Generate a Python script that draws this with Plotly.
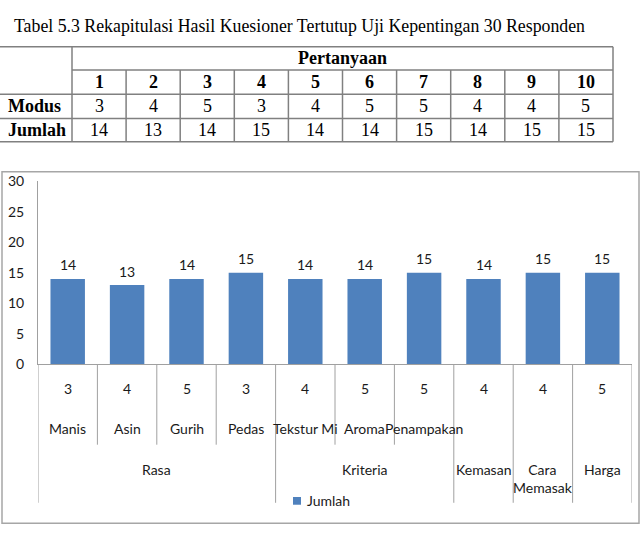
import plotly.graph_objects as go

# ---------------- data ----------------
judul_tabel = "Tabel 5.3 Rekapitulasi Hasil Kuesioner Tertutup Uji Kepentingan 30 Responden"
judul_kolom = "Pertanyaan"
pertanyaan = [1, 2, 3, 4, 5, 6, 7, 8, 9, 10]
modus = [3, 4, 5, 3, 4, 5, 5, 4, 4, 5]
jumlah = [14, 13, 14, 15, 14, 14, 15, 14, 15, 15]
aspek = ["Manis", "Asin", "Gurih", "Pedas", "Tekstur Mi", "Aroma", "Penampakan", "", "", ""]
kelompok = ["Rasa", "Rasa", "Rasa", "Rasa", "Kriteria", "Kriteria", "Kriteria",
            "Kemasan", "Cara Memasak", "Harga"]
nama_seri = "Jumlah"
y_ticks = [0, 5, 10, 15, 20, 25, 30]

# ---------------- layout helpers (pixel -> paper) ----------------
W, H = 644, 535
def X(p):
    return p / W
def Y(p):
    return 1 - p / H

SANS = "Lato"
SERIF = "Liberation Serif"
TXT = "#1a1a1a"
GRID = "#a0a0a0"

n = len(jumlah)
xs = list(range(n))

fig = go.Figure()
fig.add_trace(go.Bar(
    x=xs, y=jumlah, name=nama_seri, width=0.58,
    marker=dict(color="#4f81bd", line=dict(width=0)),
    showlegend=False, hoverinfo="x+y",
))

shapes = []
ann = []

# data labels
for i, v in zip(xs, jumlah):
    ann.append(dict(x=i, y=v, xref="x", yref="y", text=str(v), showarrow=False,
                    yanchor="middle", yshift=14, font=dict(family=SANS, size=14, color=TXT)))

# category axis: level 1 (modus), level 2 (aspek), level 3 (kelompok)
for i in xs:
    ann.append(dict(x=i, y=Y(392), xref="x", yref="paper", text=str(modus[i]), showarrow=False,
                    yanchor="middle", font=dict(family=SANS, size=14, color=TXT)))
    if aspek[i]:
        ann.append(dict(x=i, y=Y(433), xref="x", yref="paper", text=aspek[i], showarrow=False,
                        yanchor="middle", font=dict(family=SANS, size=14, color=TXT)))

# groups
groups = []
start = 0
for i in range(1, n + 1):
    if i == n or kelompok[i] != kelompok[start]:
        groups.append((kelompok[start], start, i - 1))
        start = i
for name, a, b in groups:
    label = name.replace(" ", "<br>") if a == b and " " in name else name
    ann.append(dict(x=(a + b) / 2, y=Y(465), xref="x", yref="paper", text=label, showarrow=False,
                    yanchor="top", font=dict(family=SANS, size=14, color=TXT)))

# dividers
for i in range(n + 1):
    long = i == 0 or i == n or kelompok[i] != kelompok[i - 1]
    shapes.append(dict(type="line", xref="x", yref="paper", x0=i - 0.5, x1=i - 0.5,
                       y0=Y(367), y1=Y(510 if long else 450),
                       line=dict(color=GRID, width=1)))

# legend (manual)
shapes.append(dict(type="rect", xref="paper", yref="paper", x0=X(293), x1=X(301),
                   y0=Y(512), y1=Y(504), fillcolor="#4f81bd", line=dict(width=0)))
ann.append(dict(x=X(305), y=Y(508), xref="paper", yref="paper", text=nama_seri, showarrow=False,
                xanchor="left", yanchor="middle", font=dict(family=SANS, size=14, color=TXT)))

# chart border
shapes.append(dict(type="rect", xref="paper", yref="paper", x0=X(2), x1=X(639),
                   y0=Y(531), y1=Y(168), line=dict(color="#a6a6a6", width=1.5)))

# ---------------- table ----------------
t_left, t_c1, t_right = 0, 72, 613
rows = [39, 63, 88, 113, 137]
cw = (t_right - t_c1) / len(pertanyaan)
TL = dict(color="#808080", width=1.5)
def hline(y, x0, x1):
    shapes.append(dict(type="line", xref="paper", yref="paper", x0=X(x0), x1=X(x1),
                       y0=Y(y), y1=Y(y), line=TL))
def vline(x, y0, y1):
    shapes.append(dict(type="line", xref="paper", yref="paper", x0=X(x), x1=X(x),
                       y0=Y(y0), y1=Y(y1), line=TL))
hline(rows[0], t_left, t_right)
hline(rows[1], t_c1, t_right)
for r in rows[2:]:
    hline(r, t_left, t_right)
vline(t_c1, rows[0], rows[-1])
vline(t_right, rows[0], rows[-1])
for k in range(1, len(pertanyaan)):
    vline(t_c1 + k * cw, rows[1], rows[-1])

def ttext(x, y, s, anchor="center", bold=False):
    ann.append(dict(x=X(x), y=Y(y), xref="paper", yref="paper",
                    text=f"<b>{s}</b>" if bold else s, showarrow=False,
                    xanchor=anchor, yanchor="middle",
                    font=dict(family=SERIF, size=18, color="#000000")))

ann.append(dict(x=X(12), y=Y(18), xref="paper", yref="paper", text=judul_tabel, showarrow=False,
                xanchor="left", yanchor="middle", font=dict(family=SERIF, size=17.8, color="#000000")))
ttext((t_c1 + t_right) / 2, (rows[0] + rows[1]) / 2, judul_kolom, bold=True)
for k, q in enumerate(pertanyaan):
    cx = t_c1 + (k + 0.5) * cw
    ttext(cx, (rows[1] + rows[2]) / 2, str(q), bold=True)
    ttext(cx, (rows[2] + rows[3]) / 2, str(modus[k]))
    ttext(cx, (rows[3] + rows[4]) / 2, str(jumlah[k]))
ttext(6, (rows[2] + rows[3]) / 2, "Modus", anchor="left", bold=True)
ttext(6, (rows[3] + rows[4]) / 2, "Jumlah", anchor="left", bold=True)

fig.update_layout(
    width=W, height=H, margin=dict(l=0, r=0, t=0, b=0),
    paper_bgcolor="white", plot_bgcolor="white",
    xaxis=dict(domain=[X(38), X(632)], range=[-0.5, n - 0.5], showticklabels=False,
               showline=True, linecolor=GRID, linewidth=1, showgrid=False, zeroline=False,
               ticks="", fixedrange=True),
    yaxis=dict(domain=[Y(367), Y(178)], range=[0, 30], tickvals=y_ticks,
               showline=True, linecolor=GRID, linewidth=1, showgrid=False, zeroline=False,
               ticks="", ticklabelstandoff=10,
               tickfont=dict(family=SANS, size=14, color=TXT), fixedrange=True),
    shapes=shapes, annotations=ann, showlegend=False,
)

fig.write_html("out.html")
